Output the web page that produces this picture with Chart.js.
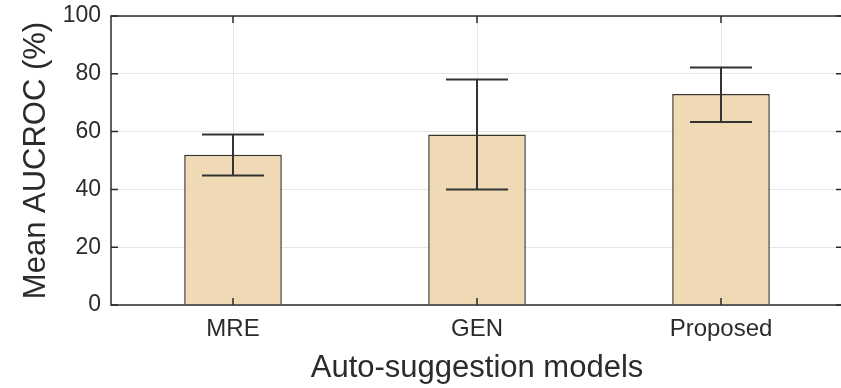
<!DOCTYPE html>
<html>
<head>
<meta charset="utf-8">
<script src="https://cdn.jsdelivr.net/npm/chart.js@4.4.0/dist/chart.umd.min.js"></script>
<style>
  body { margin: 0; overflow: hidden; background: #fff; }
  #wrap { width: 845px; height: 388px; }
</style>
</head>
<body>
<div id="wrap"><canvas id="barChart"></canvas></div>
<script>
var models = ["MRE", "GEN", "Proposed"];
var meanAuc = [52, 59, 73];
var errLow = [44.8, 40, 63.3];
var errHigh = [59, 78, 82.2];
var yTicks = [0, 20, 40, 60, 80, 100];

var ink = '#2b2b2b';

// error bars + MATLAB style box with inward ticks
var boxPlugin = {
  id: 'box',
  afterDatasetsDraw: function(chart) {
    var ctx = chart.ctx, a = chart.chartArea;
    var x = chart.scales.x, y = chart.scales.y;
    var bars = chart.getDatasetMeta(0).data;
    ctx.save();
    ctx.strokeStyle = '#333';
    ctx.lineWidth = 2;
    bars.forEach(function(b, i) {
      var yl = y.getPixelForValue(errLow[i]), yh = y.getPixelForValue(errHigh[i]);
      ctx.beginPath();
      ctx.moveTo(b.x, yl); ctx.lineTo(b.x, yh);
      ctx.moveTo(b.x - 31, yl); ctx.lineTo(b.x + 31, yl);
      ctx.moveTo(b.x - 31, yh); ctx.lineTo(b.x + 31, yh);
      ctx.stroke();
    });
    ctx.strokeStyle = ink;
    ctx.lineWidth = 1.5;
    ctx.strokeRect(a.left, a.top, a.right - a.left, a.bottom - a.top);
    ctx.beginPath();
    yTicks.forEach(function(v) {
      var py = y.getPixelForValue(v);
      ctx.moveTo(a.left, py); ctx.lineTo(a.left + 7, py);
      ctx.moveTo(a.right, py); ctx.lineTo(a.right - 7, py);
    });
    models.forEach(function(m, i) {
      var px = x.getPixelForValue(i);
      ctx.moveTo(px, a.top); ctx.lineTo(px, a.top + 7);
      ctx.moveTo(px, a.bottom); ctx.lineTo(px, a.bottom - 7);
    });
    ctx.stroke();
    ctx.restore();
  }
};

var ctxB = document.getElementById("barChart").getContext('2d');
var myBarChart = new Chart(ctxB, {
  type: 'bar',
  data: {
    labels: models,
    datasets: [{
      label: "Mean AUCROC",
      data: meanAuc,
      backgroundColor: '#EFDAB5',
      borderColor: '#3d3428',
      borderWidth: 1.5,
      barPercentage: 0.4,
      categoryPercentage: 1
    }]
  },
  options: {
    responsive: true,
    maintainAspectRatio: false,
    animation: false,
    layout: { padding: { top: 16, right: 2, left: 0, bottom: 0 } },
    plugins: { legend: { display: false }, tooltip: { enabled: false } },
    scales: {
      x: {
        afterFit: function(s) { s.height = 83; s.paddingLeft = 0; s.paddingRight = 0; },
        grid: { offset: false, color: '#e6e6e6', drawTicks: false },
        border: { display: false },
        ticks: { color: ink, padding: 10, font: { family: 'Liberation Sans', size: 24 } },
        title: {
          display: true, text: 'Auto-suggestion models', color: ink,
          font: { family: 'Liberation Sans', size: 31 }, padding: { top: 0, bottom: 1 }
        }
      },
      y: {
        min: 0, max: 100,
        afterFit: function(s) { s.width = 111; s.paddingTop = 0; s.paddingBottom = 0; },
        afterBuildTicks: function(s) { s.ticks = yTicks.map(function(v) { return { value: v }; }); },
        grid: { color: '#e6e6e6', drawTicks: false },
        border: { display: false },
        ticks: { color: ink, padding: 10, font: { family: 'Liberation Sans', size: 23 } },
        title: {
          display: true, text: 'Mean AUCROC (%)', color: ink,
          font: { family: 'Liberation Sans', size: 31 }, padding: { top: 18, bottom: 0 }
        }
      }
    }
  },
  plugins: [boxPlugin]
});
</script>
</body>
</html>
